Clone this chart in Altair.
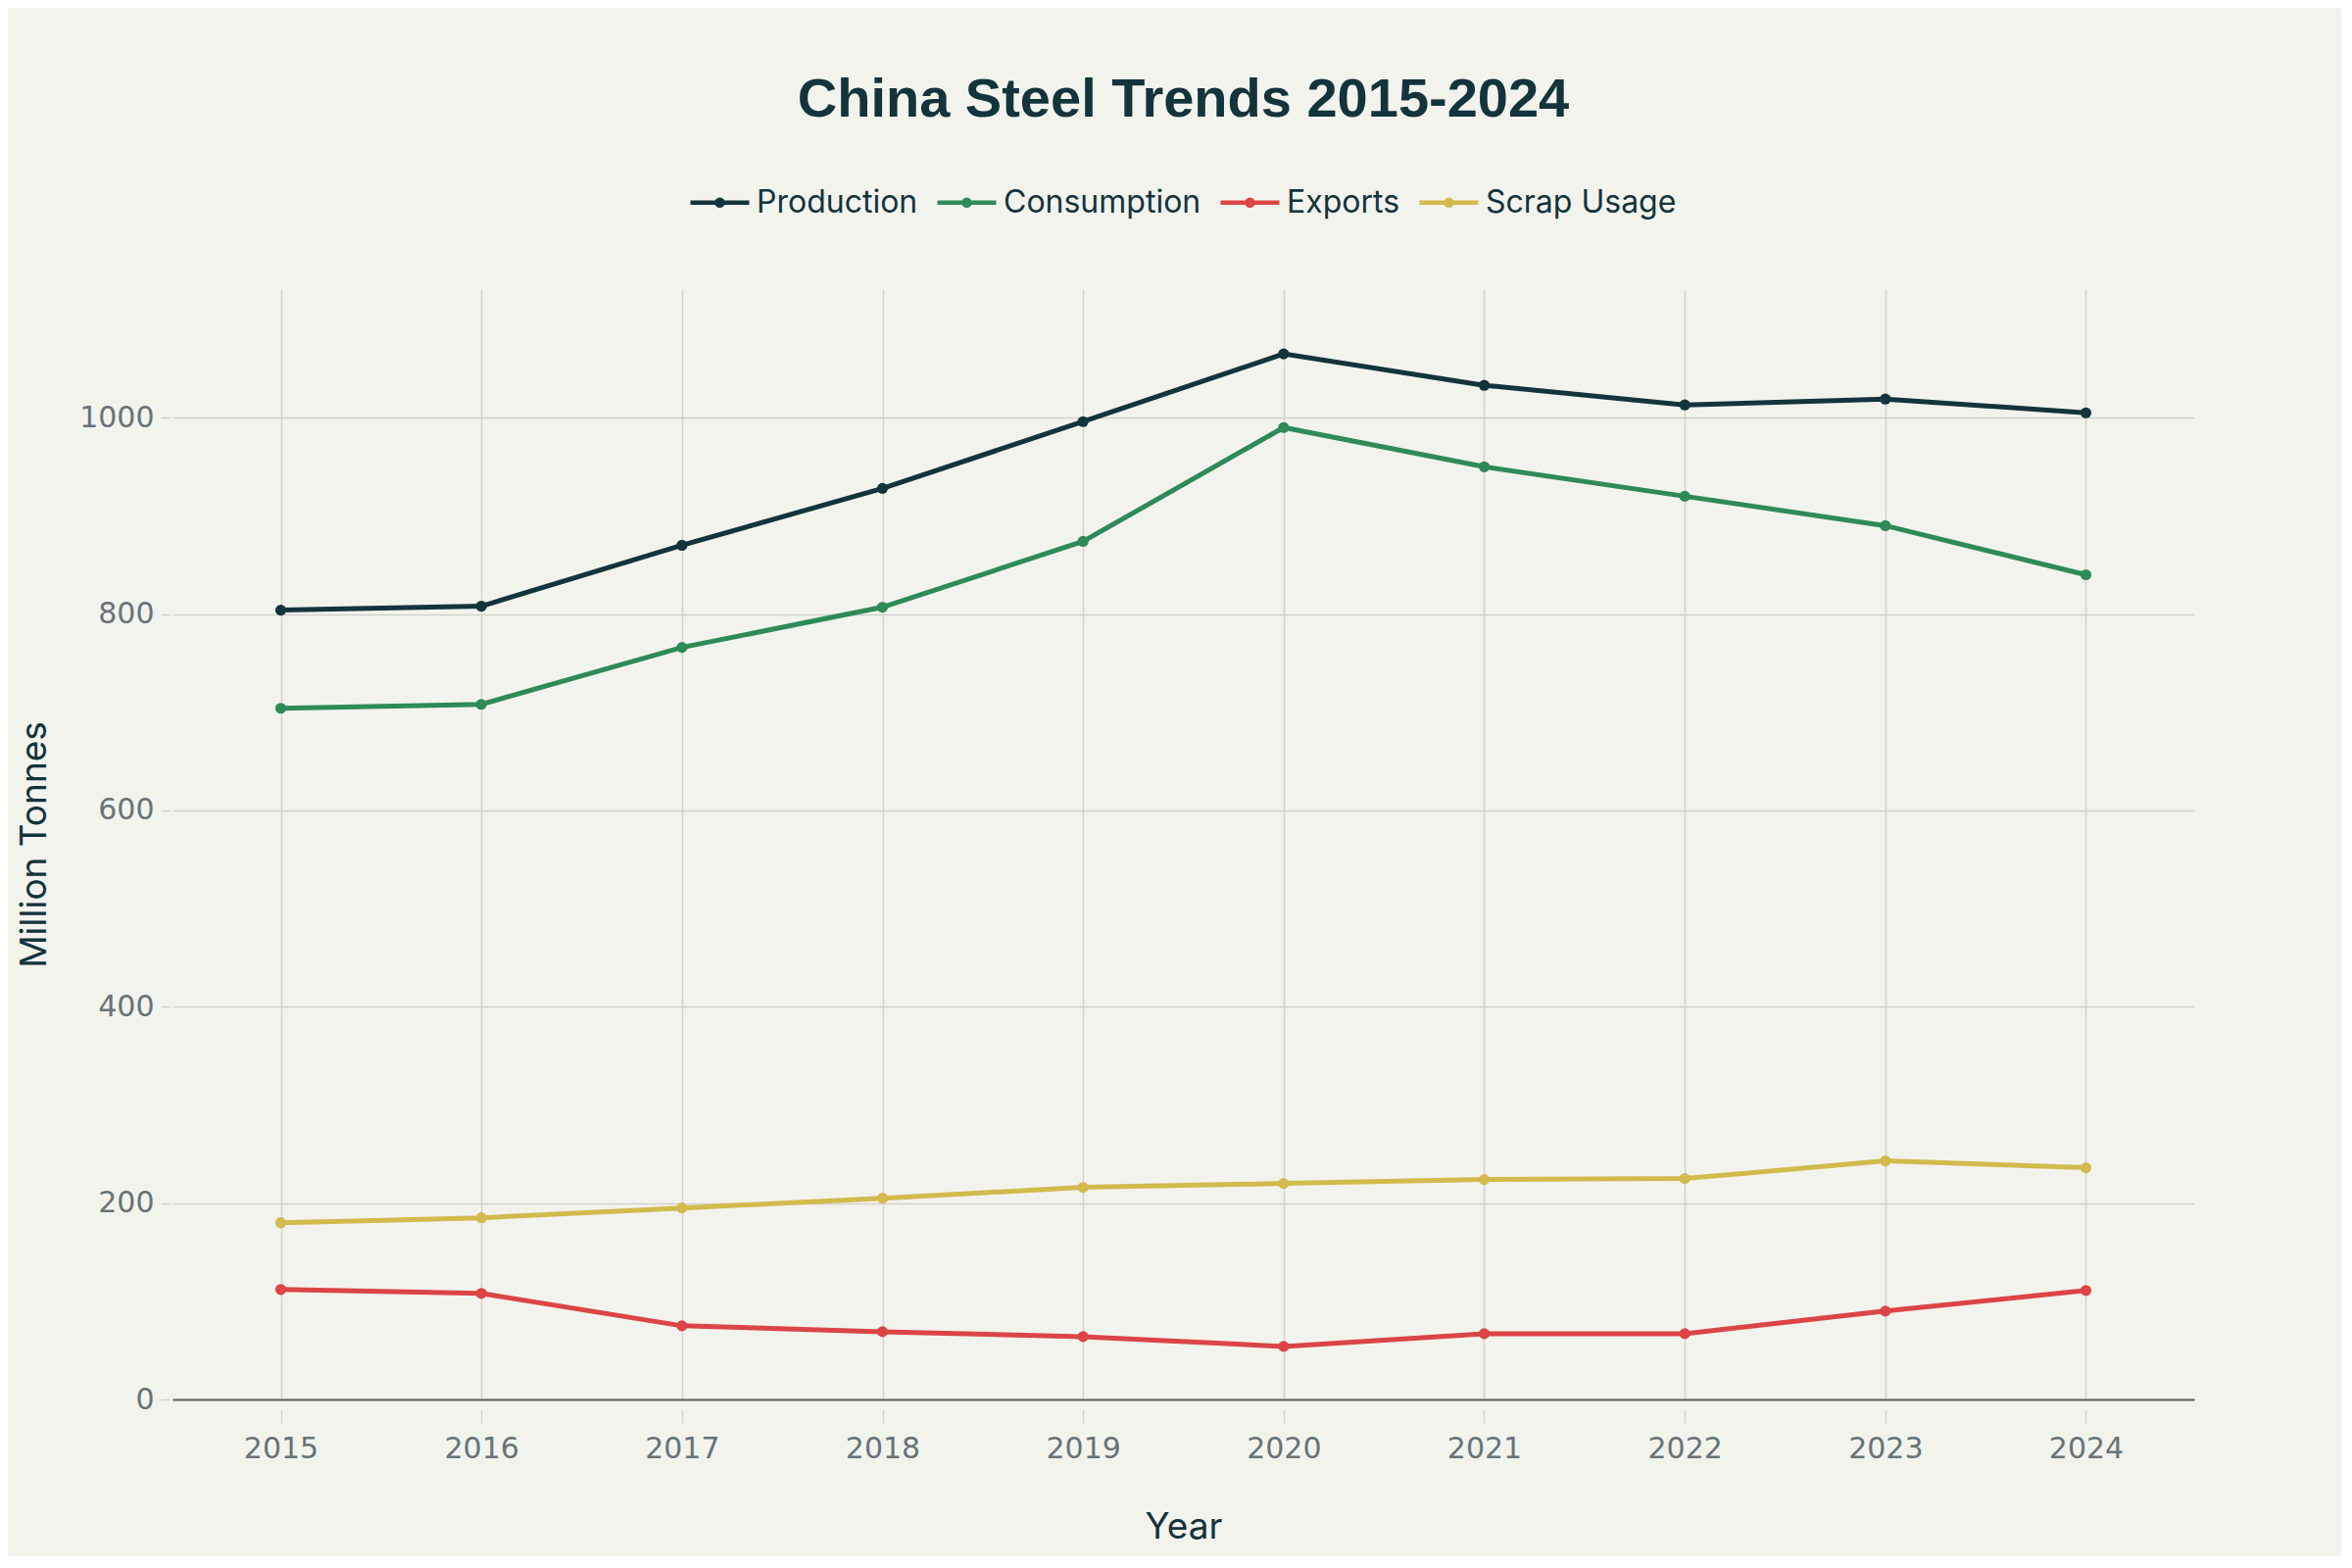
import altair as alt
import pandas as pd

years = [2015, 2016, 2017, 2018, 2019, 2020, 2021, 2022, 2023, 2024]
production = [804, 808, 870, 928, 996, 1065, 1033, 1013, 1019, 1005]
consumption = [704, 708, 766, 807, 874, 990, 950, 920, 890, 840]
exports = [112, 108, 75, 69, 64, 54, 67, 67, 90, 111]
scrap_usage = [180, 185, 195, 205, 216, 220, 224, 225, 243, 236]

series_names = ["Production", "Consumption", "Exports", "Scrap Usage"]
series_colors = ["#13343B", "#2E8B57", "#DB4545", "#D2BA4C"]
y_ticks = [0, 200, 400, 600, 800, 1000]

rows = []
for name, vals in zip(series_names, [production, consumption, exports, scrap_usage]):
    for yr, v in zip(years, vals):
        rows.append({"Year": yr, "Value": v, "Series": name})
df = pd.DataFrame(rows)

BG = "#F3F3EE"
GRID = "#D5D1CC"
DARK = "#13343B"
TICKTXT = "#677378"

legend_path = ("M-1,0L1,0"
               "M-0.1,0A0.1,0.1,0,1,0,0.1,0A0.1,0.1,0,1,0,-0.1,0Z"
               "M-0.05,0A0.05,0.05,0,1,0,0.05,0A0.05,0.05,0,1,0,-0.05,0Z")

chart = alt.Chart(df).mark_line(
    strokeWidth=5,
    point=alt.OverlayMarkDef(size=125, filled=True, opacity=1),
).encode(
    x=alt.X("Year:Q",
            scale=alt.Scale(domain=[2014.46, 2024.54], nice=False, zero=False),
            axis=alt.Axis(
                values=years, format="d", title="Year",
                grid=True, gridColor=GRID, gridWidth=1.5,
                domain=True, domainColor="#5C5C5C", domainWidth=2.2,
                ticks=True, tickColor=GRID, tickWidth=1.5, tickSize=24,
                tickDash=[0, 11, 13, 100],
                labelFont="DejaVu Sans", labelFontSize=30, labelColor=TICKTXT,
                labelPadding=11,
                titleFont="Inter", titleFontSize=37, titleFontWeight="normal",
                titleColor=DARK, titlePadding=47,
            )),
    y=alt.Y("Value:Q",
            scale=alt.Scale(domain=[0, 1131], nice=False),
            axis=alt.Axis(
                values=y_ticks, format="d", title="Million Tonnes",
                grid=True, gridColor=GRID, gridWidth=1.5,
                domain=False,
                ticks=True, tickColor=GRID, tickWidth=1.5, tickSize=12,
                tickDash=[0, 3, 9, 100],
                labelFont="DejaVu Sans", labelFontSize=30, labelColor=TICKTXT,
                labelPadding=7,
                titleFont="Inter", titleFontSize=37, titleFontWeight="normal",
                titleColor=DARK, titlePadding=26,
            )),
    color=alt.Color("Series:N",
                    scale=alt.Scale(domain=series_names, range=series_colors),
                    legend=alt.Legend(
                        title=None, orient="none", direction="horizontal",
                        legendX=526, legendY=-121,
                        symbolType=legend_path, symbolSize=3600,
                        symbolStrokeWidth=4.5,
                        labelFont="Inter", labelFontSize=32, labelColor=DARK,
                        labelOffset=5, columnPadding=10, padding=0,
                        labelLimit=600,
                    )),
    order=alt.Order("Year:Q"),
).properties(
    width=2063,
    height=1133,
    background=BG,
    padding={"left": 168, "top": 287, "right": 150, "bottom": 160},
    autosize=alt.AutoSizeParams(type="none"),
    title=alt.Title("China Steel Trends 2015-2024",
                    font="Liberation Sans", fontSize=56, fontWeight="bold",
                    color=DARK, anchor="middle", frame="group", offset=43),
).configure_view(
    stroke=None,
    fill=BG,
)

chart.save("out.html", embed_options={"renderer": "svg", "actions": False})
